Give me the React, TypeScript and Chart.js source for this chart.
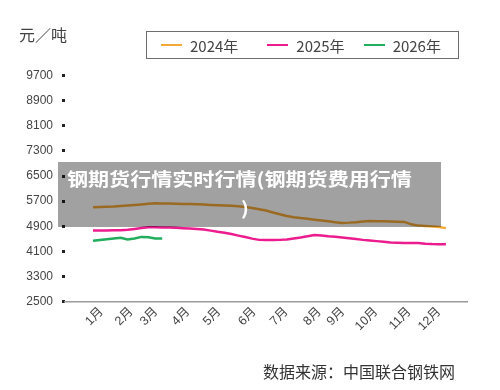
import React, { useEffect, useRef } from 'react';
import { Chart, registerables } from 'chart.js';

Chart.register(...registerables);

// Month tick labels and their position on the week axis
const monthLabels = ['1月', '2月', '3月', '4月', '5月', '6月', '7月', '8月', '9月', '10月', '11月', '12月'];
const monthWeeks = [1.2, 5.5, 9.1, 13.7, 18.2, 23.3, 27.9, 32.7, 36.1, 40.9, 45.7, 50.0];

// Weekly price series (元/吨)
const series2024 = [
  5504, 5510, 5520, 5530, 5545, 5558, 5575, 5595, 5615, 5630,
  5628, 5622, 5615, 5610, 5605, 5598, 5590, 5580, 5570, 5560,
  5550, 5540, 5515, 5480, 5440, 5400, 5340, 5280, 5225, 5190,
  5160, 5135, 5110, 5085, 5060, 5030, 5005, 5015, 5030, 5050,
  5065, 5060, 5055, 5050, 5045, 5038, 4960, 4920, 4905, 4890,
  4878, 4840,
];
const series2025 = [
  4763, 4765, 4767, 4770, 4772, 4785, 4815, 4845, 4868, 4866,
  4862, 4860, 4850, 4838, 4825, 4810, 4795, 4760, 4725, 4695,
  4650, 4600, 4555, 4505, 4465, 4463, 4462, 4465, 4480, 4510,
  4540, 4580, 4622, 4605, 4580, 4565, 4540, 4515, 4490, 4465,
  4445, 4425, 4405, 4385, 4375, 4368, 4362, 4368, 4345, 4330,
  4328, 4328,
];
const series2026 = [4435, 4460, 4485, 4510, 4535, 4480, 4510, 4560, 4545, 4510, 4508];

const seriesNames = ['2024年', '2025年', '2026年'];
const seriesColors = ['#f4a936', '#ec1c8e', '#20ad5c'];
const seriesValues = [series2024, series2025, series2026];

const yMin = 2500;
const yMax = 9700;
const yStep = 800;

const unitLabel = '元／吨';
const sourceLabel = '数据来源：中国联合钢铁网';
const overlayLine1 = '钢期货行情实时行情(钢期货费用行情';
const overlayLine2 = ')';

const tickFont = '"Liberation Sans", "Noto Sans CJK SC", sans-serif';
const cjkFont = '"Noto Sans CJK SC", "Liberation Sans", sans-serif';

export default function App() {
  const canvasRef = useRef<HTMLCanvasElement | null>(null);

  useEffect(() => {
    const canvas = canvasRef.current;
    if (!canvas) return;
    const chart = new Chart(canvas, {
      type: 'line',
      data: {
        datasets: seriesValues.map((vals, s) => ({
          label: seriesNames[s],
          data: vals.map((v, i) => ({ x: i, y: v })),
          borderColor: seriesColors[s],
          backgroundColor: seriesColors[s],
          borderWidth: 2.5,
          pointRadius: 0,
          tension: 0,
          fill: false,
        })),
      },
      options: {
        responsive: false,
        animation: false,
        devicePixelRatio: 1,
        layout: { padding: { top: 75.7, right: 33, left: 0, bottom: 0 } },
        plugins: {
          legend: { display: false },
          tooltip: { enabled: false },
        },
        scales: {
          x: {
            type: 'linear',
            min: -4.05,
            max: 54.05,
            afterFit: (scale: any) => {
              scale.height = 88.5;
            },
            afterBuildTicks: (scale: any) => {
              scale.ticks = monthWeeks.map((v) => ({ value: v }));
            },
            grid: { display: false, drawTicks: false },
            border: { display: true, color: '#9b9b9b', width: 1.5 },
            ticks: {
              autoSkip: false,
              minRotation: 45,
              maxRotation: 45,
              padding: 3,
              color: '#444',
              font: { family: tickFont, size: 12.5 },
              callback: (value: any) => {
                const i = monthWeeks.indexOf(Number(value));
                return i >= 0 ? monthLabels[i] : '';
              },
            },
          },
          y: {
            type: 'linear',
            min: yMin,
            max: yMax,
            afterFit: (scale: any) => {
              scale.width = 65;
            },
            grid: {
              display: true,
              drawOnChartArea: false,
              drawTicks: true,
              tickLength: 3,
              tickWidth: 3,
              tickColor: '#222',
              color: '#222',
            },
            border: { display: false },
            ticks: {
              stepSize: yStep,
              padding: 9,
              color: '#444',
              font: { family: tickFont, size: 12 },
              callback: (value: any) => String(value),
            },
          },
        },
      },
    });
    return () => chart.destroy();
  }, []);

  return (
    <div style={{ position: 'absolute', left: 0, top: 0, width: 500, height: 390, background: '#fff', overflow: 'hidden' }}>
      <canvas ref={canvasRef} width={500} height={390} style={{ position: 'absolute', left: 0, top: 0, width: 500, height: 390 }} />
      <div style={{ position: 'absolute', left: 19, top: 26, fontFamily: cjkFont, fontSize: 16, lineHeight: '16px', color: '#444' }}>
        {unitLabel}
      </div>
      <div
        style={{
          position: 'absolute',
          left: 146,
          top: 31,
          width: 311,
          height: 26,
          border: '1px solid #6e6e6e',
          display: 'flex',
          alignItems: 'center',
          fontFamily: cjkFont,
          fontSize: 15,
          color: '#444',
        }}
      >
        {seriesNames.map((name, i) => (
          <div key={name} style={{ display: 'flex', alignItems: 'center', marginLeft: i === 0 ? 14 : i === 1 ? 29 : 19 }}>
            <span style={{ display: 'inline-block', width: 21, height: 2.5, background: seriesColors[i], marginRight: 8 }} />
            <span style={{ lineHeight: '15px' }}>{name}</span>
          </div>
        ))}
      </div>
      <div
        style={{
          position: 'absolute',
          left: 58,
          top: 162,
          width: 383,
          height: 65,
          background: 'rgba(0,0,0,0.37)',
          color: '#fff',
          fontFamily: cjkFont,
          fontWeight: 'bold',
          fontSize: 18,
          whiteSpace: 'nowrap',
        }}
      >
        <div style={{ position: 'absolute', left: 9, top: 5, lineHeight: '22px', transform: 'scaleX(1.17)', transformOrigin: 'left center' }}>{overlayLine1}</div>
        <div style={{ position: 'absolute', left: 183, top: 34, lineHeight: '22px', transform: 'scaleX(1.17)', transformOrigin: 'left center' }}>{overlayLine2}</div>
      </div>
      <div style={{ position: 'absolute', left: 263, top: 363, fontFamily: cjkFont, fontSize: 16, lineHeight: '16px', color: '#333' }}>
        {sourceLabel}
      </div>
    </div>
  );
}
